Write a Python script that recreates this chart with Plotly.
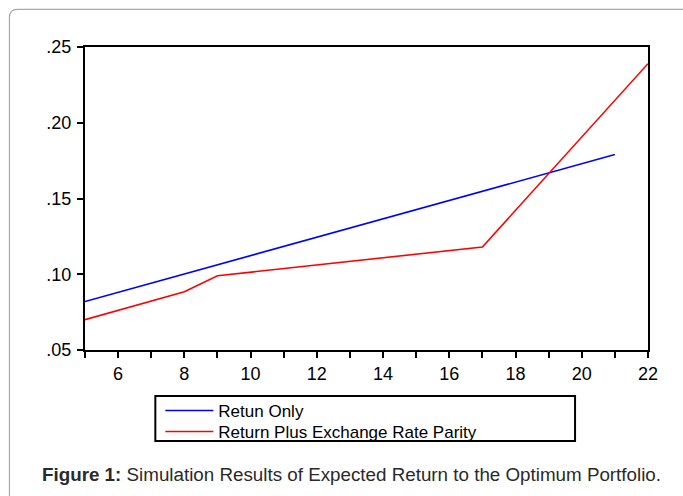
import plotly.graph_objects as go

# Series data
x_return_only = [5, 21]
y_return_only = [0.082, 0.179]

x_return_parity = [5, 8, 9, 17, 22]
y_return_parity = [0.070, 0.0885, 0.099, 0.118, 0.239]

x_tick_vals = [6, 8, 10, 12, 14, 16, 18, 20, 22]
y_tick_vals = [0.05, 0.10, 0.15, 0.20, 0.25]
y_tick_text = [".05", ".10", ".15", ".20", ".25"]

series_names = ["Retun Only", "Return Plus Exchange Rate Parity"]
caption_bold = "Figure 1:"
caption_rest = " Simulation Results of Expected Return to the Optimum Portfolio."

W, H = 683, 496
L, R, T, B = 84.6, 35, 46.7, 146
PW, PH = W - L - R, H - T - B


def px(x):
    return (x - L) / PW


def py(y):
    return (H - B - y) / PH


FONT = "Liberation Sans, Arial, sans-serif"

fig = go.Figure()
fig.add_trace(go.Scatter(x=x_return_only, y=y_return_only, mode="lines",
                         name=series_names[0], legend="legend",
                         line=dict(color="#0000ff", width=1.6)))
fig.add_trace(go.Scatter(x=x_return_parity, y=y_return_parity, mode="lines",
                         name=series_names[1], legend="legend2",
                         line=dict(color="#ff0000", width=1.6)))

axis_common = dict(showgrid=False, zeroline=False, showline=True,
                   linecolor="black", linewidth=2, mirror=True,
                   ticks="outside", tickcolor="black", tickwidth=2,
                   ticklen=6, tickfont=dict(family=FONT, size=18, color="black"))

fig.update_xaxes(range=[5, 22], tickvals=x_tick_vals,
                 minor=dict(dtick=1, tick0=5, ticks="outside", ticklen=6,
                            tickwidth=2, tickcolor="black"),
                 **axis_common)
fig.update_yaxes(range=[0.05, 0.25], tickvals=y_tick_vals, ticktext=y_tick_text,
                 ticklabelstandoff=2, **axis_common)

shapes = []
# Outer frame with a rounded top-left corner
path = (f"M {px(9)},{py(500)} L {px(9)},{py(17)} "
        f"Q {px(9)},{py(9)} {px(17)},{py(9)} L {px(690)},{py(9)}")
shapes.append(dict(type="path", xref="paper", yref="paper", path=path,
                   line=dict(color="#a8a8a8", width=1.2), layer="below"))
# Legend box
shapes.append(dict(type="rect", xref="paper", yref="paper",
                   x0=px(155), x1=px(575), y0=py(396), y1=py(441),
                   line=dict(color="black", width=2)))

legend_style = dict(xanchor="left", yanchor="top",
                    bgcolor="rgba(0,0,0,0)", borderwidth=0,
                    font=dict(family=FONT, size=17, color="black"),
                    tracegroupgap=0, itemwidth=48)

fig.update_layout(
    width=W, height=H,
    margin=dict(l=L, r=R, t=T, b=B),
    paper_bgcolor="white", plot_bgcolor="white",
    shapes=shapes,
    legend=dict(x=px(160), y=py(393), **legend_style),
    legend2=dict(x=px(160), y=py(414), **legend_style),
    showlegend=True,
    annotations=[dict(xref="paper", yref="paper", x=px(40), y=py(475),
                      xanchor="left", yanchor="middle", showarrow=False,
                      text=f"<b>{caption_bold}</b>{caption_rest}",
                      font=dict(family=FONT, size=18.8, color="#2a2a2a"))],
)

fig.write_html("out.html")
